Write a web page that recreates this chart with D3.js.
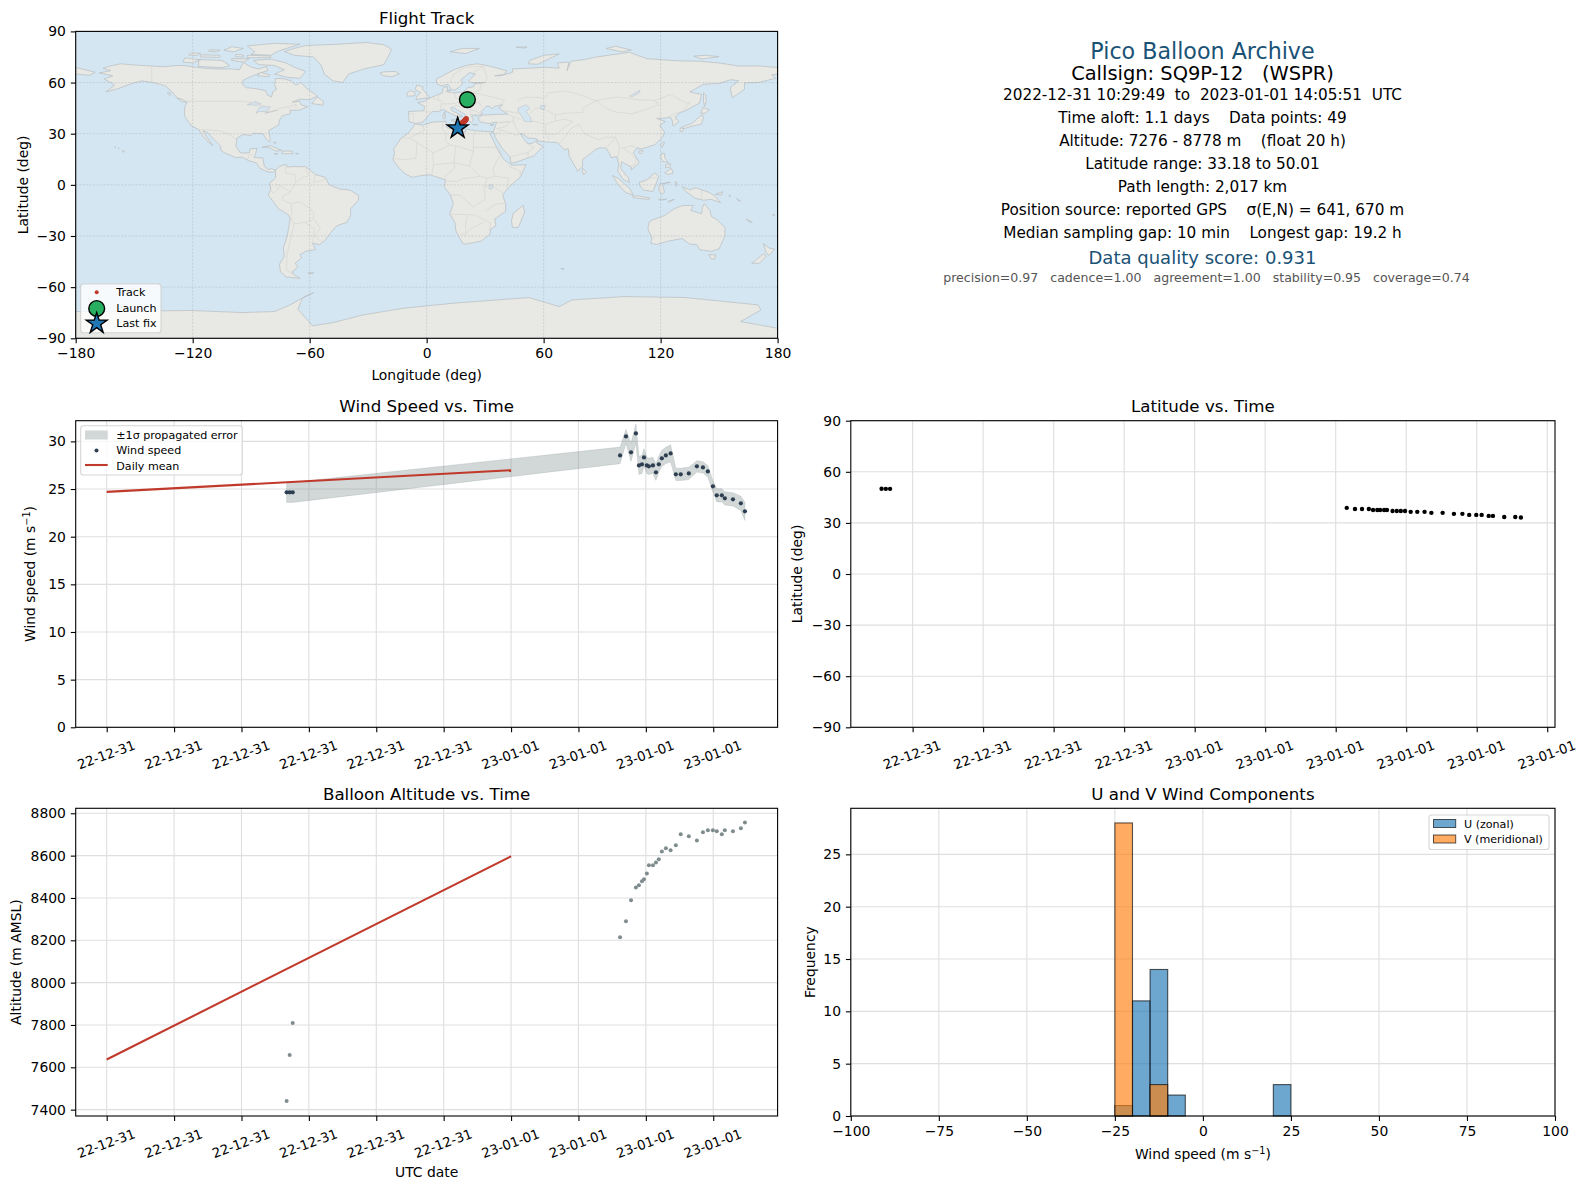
<!DOCTYPE html>
<html>
<head>
<meta charset="utf-8">
<script src="https://cdn.jsdelivr.net/npm/d3@7"></script>
<style>
	html, body { margin: 0; padding: 0; background: #fff; }
	svg { display: block; }
	text { font-family: "DejaVu Sans", sans-serif; fill: #000; white-space: pre; }
	.tick line { stroke: #000; stroke-width: 1.1px; }
	.tick text { font-size: 13.9px; }
	.legend text { font-size: 11.1px; }
</style>
</head>
<body>
<div id="chart"></div>
<script>
'use strict';

// hours after 2022-12-31 00:00 UTC, one per fix
var fixHours = [10.68, 10.86, 11.04, 30.47, 30.82, 31.12, 31.41, 31.59, 31.77, 31.89, 32.06, 32.18, 32.42, 32.60, 32.77, 32.95, 33.19, 33.47, 33.78, 34.07, 34.55, 35.03, 35.39, 35.68, 35.98, 36.21, 36.51, 36.69, 37.17, 37.64, 37.88];
var windSpeed = [24.65, 24.65, 24.65, 28.53, 30.52, 28.85, 30.84, 27.48, 27.59, 28.32, 27.48, 27.38, 27.48, 26.75, 27.59, 28.22, 28.53, 28.74, 26.54, 26.54, 26.64, 27.38, 27.27, 26.85, 25.28, 24.34, 24.34, 24.02, 23.92, 23.50, 22.66];
var windSigma = [1.05, 1.05, 1.05, 0.87, 0.75, 0.95, 1.00, 0.95, 0.95, 0.90, 0.85, 0.85, 0.85, 0.85, 0.85, 0.85, 0.85, 0.90, 0.65, 0.65, 0.65, 0.60, 0.60, 0.60, 0.60, 0.70, 0.70, 0.70, 0.70, 0.75, 0.95];
var altitude = [7441, 7658, 7809, 8214, 8290, 8389, 8450, 8460, 8479, 8488, 8516, 8554, 8554, 8568, 8583, 8620, 8635, 8625, 8649, 8701, 8691, 8672, 8710, 8720, 8720, 8715, 8701, 8720, 8715, 8729, 8757];
var latitude = [50.01, 50.00, 49.98, 38.8, 38.2, 38.2, 38.2, 37.6, 37.6, 37.6, 37.6, 37.6, 37.0, 37.0, 37.0, 37.0, 36.5, 36.5, 36.5, 35.9, 35.9, 35.3, 35.3, 34.7, 34.7, 34.7, 34.1, 34.1, 33.5, 33.5, 33.18];
var longitude = [20.9, 20.9, 20.9, 20.3, 20.1, 20.0, 19.9, 19.7, 19.6, 19.5, 19.4, 19.3, 19.1, 19.0, 18.9, 18.8, 18.6, 18.5, 18.3, 18.1, 17.9, 17.7, 17.5, 17.3, 17.2, 17.0, 16.8, 16.6, 16.4, 16.1, 15.9];

var meanHours = [0, 24];
var meanWind = [24.7, 26.98];
var meanAltitude = [7637, 8597];

var launchFix = [20.9, 50.01];
var lastFix = [15.9, 33.18];

var binStarts = [-25, -20, -15, -10, 20];
var uCounts = [1, 11, 14, 2, 3];
var vBinStarts = [-25, -15];
var vCounts = [28, 3];
var binWidth = 5;

var lonTicks = [-180, -120, -60, 0, 60, 120, 180];
var latTicks = [-90, -60, -30, 0, 30, 60, 90];
var windTicks = [0, 5, 10, 15, 20, 25, 30];
var altTicks = [7400, 7600, 7800, 8000, 8200, 8400, 8600, 8800];
var histXTicks = [-100, -75, -50, -25, 0, 25, 50, 75, 100];
var histYTicks = [0, 5, 10, 15, 20, 25];

var infoLines = [
	'2022-12-31 10:29:49  to  2023-01-01 14:05:51  UTC',
	'Time aloft: 1.1 days    Data points: 49',
	'Altitude: 7276 - 8778 m    (float 20 h)',
	'Latitude range: 33.18 to 50.01',
	'Path length: 2,017 km',
	'Position source: reported GPS    \u03c3(E,N) = 641, 670 m',
	'Median sampling gap: 10 min    Longest gap: 19.2 h'
];

// rough coastlines, lon/lat
var landPolys = [
	// north america
	[[-168,65.7],[-164,66.5],[-162,67],[-166,68.4],[-163,69.5],[-157,71],[-151,70.4],[-141,69.7],[-135,69.3],[-128,70],[-124,69.9],[-115,68.5],[-108,68],[-100,68],[-96,67.5],[-94,71.8],[-90,69],[-86,68],[-82,69.5],[-81.5,67],[-87,65],[-94,61.5],[-94.5,59],[-92.5,57],[-88,56.5],[-82.5,55.2],[-82,53],[-79.5,51.5],[-79,54.5],[-77,56],[-78,58.7],[-77.5,62.4],[-73.5,62.3],[-69.5,61],[-67,58.4],[-64.5,60.2],[-61.5,56.5],[-57,53],[-56,52],[-60,50],[-65,50.2],[-69,48.5],[-65,49],[-64.5,47],[-61,45.8],[-65.5,43.7],[-70,43.8],[-70,41.7],[-74,40.5],[-75.5,38],[-76,35],[-78,33.8],[-81,31.8],[-80.2,27],[-80.5,25.2],[-81.8,26],[-82.8,28],[-84,30],[-89,30.2],[-90,29],[-94,29.5],[-97.3,27.5],[-97.8,22.5],[-95.5,18.7],[-91,18.7],[-90.5,21],[-87,21.5],[-87.8,18],[-88.5,16],[-84,15.8],[-83.3,11],[-81.5,9],[-79.5,9.5],[-77.5,8.6],[-78.5,7.5],[-81,7.5],[-83,8.3],[-85.8,10],[-87.5,13],[-91,14],[-94.5,16.2],[-98,16],[-104,19],[-105.7,20.5],[-105.5,22.5],[-109,26.5],[-112.8,31],[-114.8,31.7],[-112.5,27.5],[-109.5,23],[-112,25],[-115,29],[-117,32.5],[-120.5,34.5],[-122.5,37.5],[-124.2,40.5],[-124,46],[-122.8,48.5],[-128,51],[-130.5,54.5],[-134,58],[-139.5,59.8],[-146,61],[-151,59.5],[-153.5,58.5],[-158,56.5],[-164.5,54.5],[-160,58.5],[-162,60],[-165.5,62],[-161,64]],
	// greenland
	[[-73,78.2],[-68,80],[-62,81.7],[-45,82.5],[-31,83.5],[-22,82.2],[-18,79.5],[-20,74.5],[-22,70.5],[-32,68],[-40,65],[-43,60],[-48,61],[-52.5,65],[-54,70],[-58,75],[-68,76]],
	// canadian arctic
	[[-80,73.7],[-72,71.5],[-68,69],[-62,66.5],[-65,62.5],[-71,63],[-78,65],[-73,67.5],[-78,70],[-86,70.5],[-89,73]],
	[[-117,69.5],[-105,68.7],[-101,70],[-105,73],[-117,73.5]],
	[[-125,72],[-120,71.5],[-116,73.3],[-124,74.5]],
	[[-90,76.5],[-80,76],[-76,78.5],[-65,82.5],[-78,83],[-92,81.5],[-88,78]],
	[[-92,76],[-80,75.6],[-80,74.6],[-92,74.6]],
	[[-116,75],[-106,74.8],[-106,76],[-116,76.3]],
	[[-100,73],[-94,72],[-91,74],[-100,74]],
	[[-87,64],[-81,63.5],[-80.5,64.5],[-85,66]],
	[[-122,76.2],[-118,75.8],[-116,77.3],[-121,77.3]],
	[[-104,79],[-99,78],[-94,80],[-100,81]],
	[[-112,78.5],[-108,78],[-106,79],[-111,79.2]],
	[[-98,75.2],[-94,75],[-94,76.2],[-98,76.5]],
	[[-59,47.7],[-53,46.7],[-53,49],[-56,51.5]],
	[[-133,54],[-131.5,54],[-131.5,52.3]],
	[[-128,50.8],[-125,50],[-123.5,48.5],[-125.5,48.8]],
	// caribbean and hawaii
	[[-84.5,22],[-80,23],[-74.5,20.2],[-77.5,19.8],[-81,22]],
	[[-74,19.8],[-69,19.8],[-68.5,18.3],[-74,18.2]],
	[[-78.3,18.4],[-76.3,18.2],[-77,17.8]],
	[[-67.2,18.5],[-65.7,18.4],[-66.5,17.9]],
	[[-78.5,25.2],[-77.3,24.8],[-77.8,24]],
	[[-156,20.2],[-155,19.8],[-155.7,19]],
	[[-158.2,21.6],[-157.7,21.4],[-158,21.2]],
	[[-160,22.2],[-159.3,22.1],[-159.6,21.8]],
	// south america
	[[-77.5,8.6],[-75.5,10.8],[-72,12],[-71.5,10.5],[-68,10.7],[-62,10.7],[-57,6],[-52,4.5],[-50,0],[-44.5,-2.5],[-39.5,-3],[-35,-6],[-35,-9],[-39,-14],[-39,-18],[-41,-22],[-46,-24],[-48.5,-27],[-52,-32.5],[-55,-35],[-58.5,-34.2],[-57,-38],[-62,-39],[-65,-41],[-64,-42.8],[-67.5,-46],[-66,-48],[-69,-51],[-68.3,-52.5],[-65,-54.8],[-72,-54],[-75,-51],[-75.5,-46.5],[-73,-42],[-73.5,-37],[-71.5,-30],[-70,-20],[-71,-17.5],[-76,-14],[-81.2,-6],[-80,-2.5],[-80.5,1],[-77.5,4],[-77.5,7]],
	[[-61,-51.7],[-58,-51.4],[-58.5,-52.2]],
	// africa
	[[-6,35.8],[-2,35],[3,36.8],[10,37.3],[10,34.5],[10.5,33.5],[15,32.3],[20,31],[20,32.8],[25,31.7],[32,31.2],[34.2,31.2],[32.5,29.9],[35,24],[37.5,18.5],[39.5,15],[43,12],[43.5,11.5],[51,11.8],[48,4.5],[42,-1.5],[39,-6],[40.5,-11],[40.5,-15.5],[35,-20],[35.5,-24],[32.8,-26],[32.5,-29],[28,-33],[20,-34.8],[18.3,-34],[15,-27],[14.5,-22],[11.8,-17],[13.7,-11],[12.2,-6],[9,-1],[9.7,3],[6,4.3],[1.5,6],[-4,5.2],[-7.5,4.4],[-11.5,6.8],[-15,11],[-17.3,14.7],[-16.5,19],[-17,21],[-13,27.5],[-9.8,30],[-6.8,34]],
	[[49.5,-12],[50.3,-16],[47,-25],[44,-25],[43.5,-21],[44.5,-16.5]],
	// eurasia
	[[-9,37],[-9.3,43],[-1.5,43.5],[-1,46],[-4.7,48.3],[-1.5,48.8],[1.5,50.8],[4,52],[8,54],[8.5,57],[10.7,57.7],[10.5,54.5],[14,54],[19,54.5],[21,57],[24,57.5],[24.5,59.3],[30,60],[23,60],[21.5,61],[25,65],[22,65.8],[17.5,61.5],[18.8,60],[16.5,57],[14,55.4],[12.7,56],[11,59],[7.5,58],[5,59.5],[5,62],[14,67.5],[20,70],[26,71],[31,70],[41,67],[40,64.8],[35,64],[38,64],[44,66],[44,68],[54,68.5],[60,69],[68,68.5],[67,71.5],[73,72],[72,67],[74,72.5],[81,73.5],[87,75],[104,77.7],[113,74],[128,72.8],[140,72.5],[150,71.5],[160,69.7],[170,69.8],[180,68.8],[180,65],[177,64.5],[179,62.5],[170,60],[163,59.8],[163,56],[156.7,51],[155.7,57],[160,61],[156,61.7],[150,59.5],[142,59],[135,54.5],[141,53],[140,48],[132,43],[130,42.5],[127.5,39.8],[129.4,37],[126.3,34.5],[126,37.5],[125,39.7],[121.5,39],[118,39],[122.5,37],[119.5,35],[122,31],[121,28],[117,23.5],[110,21],[108,21.7],[106,19],[109,13],[105,8.8],[105,10.5],[100,13.5],[99.5,9.5],[103.5,4],[104,1.3],[101,3],[98,8],[98.5,12],[97.5,16.5],[94.5,16],[94,18],[92,21.5],[89,21.8],[87,21],[82,16.5],[80,15],[80,11],[77.5,8],[76,11],[73,17],[72.7,21],[70.5,20.8],[69,22.5],[67,24.8],[61.5,25.2],[57,25.7],[56.5,27],[52,27.5],[49,30],[48,30],[50,26.5],[51.5,25],[51.6,24.2],[54,24.2],[56.3,26],[56.7,24.4],[59.8,22.5],[55,17],[52,15.8],[45,13],[43.3,12.7],[42.7,16.5],[39,21],[35,28],[34.9,29.5],[34.2,31.2],[35.5,35.5],[36,36.8],[32,36],[30,36.3],[27.3,37],[26.3,39.5],[29,41],[31,41],[36,41.3],[41.5,41.5],[37,45],[39,47],[35,46],[33.5,44.5],[32.5,46],[30.5,46],[28,43],[28.5,41.5],[26,40.7],[23,40.5],[24,38],[22.8,36.5],[21,38],[19.5,41.5],[15.5,44],[13.5,45.7],[12.3,45],[13,43.5],[16,41.8],[18.4,40],[17,40.5],[16,38],[15.7,40],[12.3,41.8],[10.3,43],[8.8,44.4],[6,43],[3,43],[0,39.5],[-2,36.7],[-5.5,36]],
	// chukotka across the date line
	[[-180,68.8],[-175,67.5],[-170,66],[-173,64.3],[-180,65]],
	// european and arctic islands
	[[-5.5,50],[1.5,51.2],[0,53.5],[-2,56],[-2,57.5],[-5,58.6],[-6,56],[-3,54],[-5,52]],
	[[-10,52],[-6,52.2],[-6,54.5],[-8.5,55.2],[-10,54]],
	[[-24,65.5],[-22,64],[-18,63.4],[-14,65],[-16,66.5],[-22,66.3]],
	[[12,78],[18,80],[27,80],[20,77]],
	[[52,71],[57,70.7],[68,76.8],[60,76],[53,73]],
	[[92,80],[97,81.3],[105,79],[100,78]],
	[[137,75.5],[143,76],[150,75.2],[141,73.8]],
	[[46,80.8],[51.5,80.8],[50,80.2]],
	[[12.5,38],[15.5,38.2],[15,36.7]],
	[[8.3,41],[9.7,41],[9.5,39],[8.5,39]],
	[[8.7,42.5],[9.5,43],[9.3,41.5]],
	[[23.5,35.5],[26.2,35.3],[24,35]],
	[[32.5,35],[34.5,35.6],[33.5,34.7]],
	[[12,55.8],[12.5,55.3],[10.5,55.2]],
	// asia and pacific islands
	[[131,34],[136,36],[140,40],[141.5,41],[142,39],[140.8,35.5],[137,34.6],[132,33]],
	[[130,33.5],[131.8,33],[131,31],[130,31.5]],
	[[140.5,42],[141.7,45.4],[145,44],[143,42]],
	[[142,54],[143,53],[143.5,49],[142.5,46],[142,49]],
	[[121,25],[122,25],[120.8,22],[120,23.5]],
	[[109,20],[111,20],[110,18.3],[108.7,18.7]],
	[[80,9.7],[82,7.5],[80.5,6],[79.8,8]],
	[[120.5,18.5],[122.2,18.4],[122,16],[124,13],[121,13.8],[120,16]],
	[[122,7],[125.5,9.8],[126.5,7],[124,6]],
	[[122.5,11.5],[125,12.5],[125,10.5],[122.5,10]],
	[[109,1.5],[113,3],[117,7],[119,5],[117.8,1],[116,-4],[111,-3],[109.2,0]],
	[[95.3,5.5],[98,4],[104,-2],[106,-6],[102,-4.5],[98,0.5]],
	[[105.5,-6.5],[108.5,-6.5],[114.5,-7.7],[114,-8.6],[106,-7.5]],
	[[119.5,0.5],[125,1.5],[121,0.5],[122,-4.5],[120.5,-5.5],[119,-3]],
	[[127.5,2],[128.5,1],[128,-0.8]],
	[[131,-1],[135,-3],[138,-1.7],[145,-4.5],[147.8,-6.5],[150.8,-10.5],[146,-8.5],[142,-9],[138,-8],[133,-4]],
	[[119,-8.5],[123,-8.4],[120,-9]],
	[[124,-9.5],[127,-8.5],[124,-10.2]],
	[[148,-5.5],[152,-4],[151,-6]],
	[[155,-6],[156,-6.5],[155.5,-7]],
	[[159,-8],[161,-9.5],[160,-9.5]],
	[[164,-20],[167,-22],[165,-21.5]],
	[[177.3,-17.5],[178.6,-17.5],[178,-18.2]],
	[[114,-22],[113.5,-26],[115.5,-31],[115,-34.3],[118,-35],[124,-33],[131,-31.5],[135,-34.8],[138.5,-35],[140,-38],[146,-39],[150,-37.5],[153,-30],[153,-25],[149,-20.5],[146,-18.5],[145.3,-15],[142.5,-11],[141.5,-13],[141,-17],[135.5,-15],[136.8,-12],[131,-12.2],[127,-14],[122,-18],[116,-20.5]],
	[[144.7,-41],[148.2,-41],[147.8,-43.5],[146,-43.5]],
	[[172.8,-34.5],[175.5,-37],[178.5,-37.7],[175.5,-41.5],[174,-39.5]],
	[[172.7,-40.5],[174.3,-41.7],[170.7,-46],[166.7,-46]],
	[[68.8,-49],[70.5,-49.2],[69.5,-49.8]],
	// antarctica
	[[-180,-74.3],[-120.6,-73.7],[-94.7,-74.9],[-78,-74.3],[-70,-70.4],[-62.4,-65.5],[-58,-63.2],[-63.7,-66.5],[-66,-73],[-58.5,-82.7],[-48,-80.8],[-32.7,-76.3],[-12,-72.4],[13.8,-69.4],[52.6,-66.1],[68,-71.4],[74.5,-67.5],[101.7,-65.5],[132.7,-66.1],[170,-70.4],[171.4,-73.4],[161,-80.2],[180,-84.1],[180,-90],[-180,-90]]
];

// inland water drawn over the land
var waterPolys = [
	[[47,45],[51,47],[53,45],[51,43],[53,40],[54,37],[50,37.3],[49,40],[47,43]],
	[[-92,47],[-88,48.8],[-85,47.5],[-87,46.6]],
	[[-87.5,42],[-85.5,45.8],[-80,45.8],[-82,43],[-86,43]],
	[[-83,42],[-79,43],[-76.5,43.7],[-79.5,43.3]],
	[[104,52],[109.5,55.5],[109,54],[105,51.5]],
	[[32,0],[34,0],[33.5,-2.5],[32,-2.5]],
	[[58.5,46.5],[61,46.5],[60,44],[58.5,44.5]]
];

// country borders, only the ones that show at this scale
var borderLines = [
	[[-141,69.7],[-141,60.3],[-134,58]],
	[[-123,49],[-95,49],[-88,48.2],[-83,46],[-82,43],[-79,43],[-75,45],[-70,46],[-67,47.2],[-67,45]],
	[[-117,32.5],[-106.5,31.8],[-101,29.5],[-97.3,26]],
	[[-92,14.5],[-91,17.5],[-89,17.8]],
	[[-72,12],[-72.5,7],[-67.5,6],[-67,1.5],[-70,-4.2],[-74,-7],[-73,-9.5],[-69.5,-11],[-69,-16],[-69.5,-18]],
	[[-77.5,0.5],[-75,-0.5],[-70,-4.2]],
	[[-80.3,-3.4],[-78.5,-4.8],[-75.2,-1]],
	[[-62,10],[-60.5,5.2],[-64,4],[-67,1.5]],
	[[-57,6],[-58,1.5],[-54,2.2],[-51.7,4.2]],
	[[-69,-11],[-65.3,-10],[-60,-13.5],[-58,-16.5],[-58,-20],[-54.5,-25.5],[-57.5,-30],[-53.5,-33.8]],
	[[-70,-18.3],[-68,-22.8],[-62.5,-22],[-58,-20]],
	[[-68,-22.8],[-70,-33],[-71.5,-40],[-72,-50],[-68.5,-52.3]],
	[[-62.5,-22],[-57.7,-25.5],[-58.5,-34]],
	[[-2,35],[-1.2,32],[-8.7,27.5],[-13,27.5]],
	[[-8.7,27.5],[-5,25],[3,19],[4.3,19.2],[12,23.5],[15,23],[24,19.5],[24,29],[25,31.7]],
	[[8.5,37],[8,33],[10,30],[9.5,26],[12,23.5]],
	[[24,22],[36.8,22]],
	[[-17,15.5],[-12,14.8],[-5.5,15.5],[-5,25]],
	[[3,19],[3.5,11.7],[2.7,6.3]],
	[[3.5,11.7],[14,13],[14.5,10],[9,4.5]],
	[[15,23],[14,13],[22,11],[24,8.7],[27.5,5],[31,3.7],[35,5],[42,4],[41,-1.6]],
	[[24,19.5],[22.5,14],[22,11]],
	[[36.8,22],[38.5,18],[36,14.3],[34,9],[35,5]],
	[[42,11],[48,8],[48,4.5]],
	[[9,2.2],[16,2],[18.5,3.5],[27.5,5]],
	[[12.2,-6],[17,-6],[22,-11],[24,-13],[30,-8.5],[29.5,-1.2],[31,3.7]],
	[[29.5,-1.2],[34,-1],[37.5,-3.5],[39.2,-4.7]],
	[[11.8,-17.3],[24,-17.5],[25,-17.8],[33,-22.5],[32,-26.7]],
	[[20,-29],[20,-22],[21,-18]],
	[[17,-28.7],[20,-29],[23,-25.3],[29,-22.2]],
	[[40.5,-10.7],[34.8,-11.5],[30,-15.3]],
	[[-9,42],[-6.5,41.5],[-7,37.2]],
	[[-1.7,43.3],[3,42.5]],
	[[3,51],[6,49.5],[8,49],[7.5,47.5],[13,47.5],[17,48.5],[23,48],[27,48.2],[28.3,45.5]],
	[[7,53.3],[6,51],[6,49.5]],
	[[14.2,54],[15,51],[19,49.5],[24,50.5],[23.5,54],[21,55.3]],
	[[9,54.8],[14.2,54]],
	[[7.5,47.5],[7,44]],
	[[14,46.5],[18,46],[22.5,44.2],[22.5,41.3],[26,41.3]],
	[[28,41.9],[22.5,44.2]],
	[[12,60],[14,65],[20,69],[29,69.5]],
	[[24,66],[29,69.5]],
	[[30,60],[31,63],[29,69.5]],
	[[28,56],[23.5,54],[32,52],[40,49.7],[38,47]],
	[[28,56],[27.5,59.5]],
	[[40,43.5],[47,42],[48.5,41.8]],
	[[41.5,41.5],[44.5,39.7],[48,38.5]],
	[[36.5,36.5],[44.5,37.2],[44.5,39.7]],
	[[36,33],[39,32],[46,29],[48,29.9]],
	[[44.5,37.2],[46,33],[48,30]],
	[[35,29.5],[39,32]],
	[[36.5,36.5],[42.3,37.1],[41,34.3],[36,33]],
	[[43,16.5],[52,19],[55,22],[51.6,24.2]],
	[[52,19],[52,16]],
	[[47,50],[51,51.5],[61,51],[62,54],[71,55],[77,53.5],[87,49.3]],
	[[53,42],[56,45],[59,45],[62,43.5],[66,41],[66,37.5],[61,35.5],[54,37.5]],
	[[66,41],[71,42],[80,42.5],[80,45],[87,49.3]],
	[[61,35.5],[61,30],[63,26.5]],
	[[61,30],[66,29.5],[71,34],[75,37],[71,38.5],[66,37.5]],
	[[68,24],[71,28],[74,33],[78,35.5],[81,30],[88,26.5],[92,28],[97,28],[94,24],[92,21.5]],
	[[87,49.3],[92,45],[97,42.7],[105,41.7],[111,43.5],[119,47],[117,49.5],[108,50],[98,51.5],[92,50.5],[87,49.3]],
	[[119,47],[117,49.5],[125,53],[133,48],[135,48.3],[131,43]],
	[[124,40],[128,42],[130,42.5]],
	[[126.5,38],[128.5,38.5]],
	[[97,28],[99,22],[101,21.5],[105,23],[108,21.7]],
	[[99,22],[98,16],[99,11]],
	[[101,21.5],[105,18],[107.5,15],[106,11],[103,11]],
	[[101,6],[103,5.5]],
	[[110,1],[115,4],[118,4.3]],
	[[141,-2.6],[141,-9]]
];

var W = 1588, H = 1189;

// plot boxes in page pixels
var mapBox = { x0: 75.7, x1: 777.6, y0: 31.4, y1: 338.3 };
var windBox = { x0: 75.7, x1: 777.6, y0: 420.7, y1: 727.3 };
var latBox = { x0: 850.8, x1: 1555, y0: 420.7, y1: 727.3 };
var altBox = { x0: 75.7, x1: 777.6, y0: 808.3, y1: 1116 };
var histBox = { x0: 850.8, x1: 1555, y0: 808.3, y1: 1116 };

var RED = '#c0392b', NAVY = '#2c3e50', SLATE = '#7f8c8d', INK = '#1a5276';
var GRID = '#dfdfdf';

var svg = d3.select('#chart').append('svg').attr('width', W).attr('height', H);
var defs = svg.append('defs');

function hourToDate(h) {
	return new Date(Date.UTC(2022, 11, 31) + h * 3600000);
}

// "m s-1" style label with a real raised exponent
function windLabel(sel) {
	sel.text('Wind speed (m s');
	sel.append('tspan').attr('dy', -5).style('font-size', '9.7px').text('\u22121');
	sel.append('tspan').attr('dy', 5).text(')');
}

function frame(box, title, titleGap, xLabel, xLabelY, yLabel, yLabelX) {
	var g = svg.append('g');
	g.append('rect')
		.attr('class', 'frame')
		.attr('x', box.x0).attr('y', box.y0)
		.attr('width', box.x1 - box.x0).attr('height', box.y1 - box.y0)
		.attr('fill', 'none').attr('stroke', '#000').attr('stroke-width', 1.1);
	g.append('text')
		.attr('x', (box.x0 + box.x1) / 2).attr('y', box.y0 - titleGap)
		.attr('text-anchor', 'middle').style('font-size', '16.67px').text(title);
	if (xLabel) {
		var xl = g.append('text')
			.attr('x', (box.x0 + box.x1) / 2).attr('y', xLabelY)
			.attr('text-anchor', 'middle').style('font-size', '13.9px');
		if (typeof xLabel === 'function') { xl.call(xLabel); } else { xl.text(xLabel); }
	}
	var yl = g.append('text')
		.attr('transform', 'translate(' + yLabelX + ',' + (box.y0 + box.y1) / 2 + ') rotate(-90)')
		.attr('text-anchor', 'middle').attr('y', 5).style('font-size', '13.9px');
	if (typeof yLabel === 'function') { yl.call(yLabel); } else { yl.text(yLabel); }
	return g;
}

function drawAxes(box, x, y, xTickVals, yTickVals, xFormat, rotate, gridDash) {
	var grid = svg.append('g').attr('class', 'grid');
	grid.selectAll('line.gx').data(xTickVals).enter().append('line')
		.attr('class', 'gx')
		.attr('x1', x).attr('x2', x).attr('y1', box.y0).attr('y2', box.y1);
	grid.selectAll('line.gy').data(yTickVals).enter().append('line')
		.attr('class', 'gy')
		.attr('y1', y).attr('y2', y).attr('x1', box.x0).attr('x2', box.x1);
	grid.selectAll('line')
		.attr('stroke', gridDash ? '#9aa4a8' : GRID)
		.attr('stroke-opacity', gridDash ? 0.55 : 1)
		.attr('stroke-width', gridDash ? 0.6 : 1.1)
		.attr('stroke-dasharray', gridDash ? '2,1.5' : null);

	var xAxis = d3.axisBottom(x).tickValues(xTickVals).tickSize(4.9).tickPadding(4.9);
	if (xFormat) { xAxis.tickFormat(xFormat); }
	var xg = svg.append('g').attr('transform', 'translate(0,' + box.y1 + ')').call(xAxis);
	xg.select('.domain').remove();
	if (rotate) {
		xg.selectAll('text')
			.attr('y', 0).attr('dy', '0.35em')
			.style('font-size', '13.3px')
			.attr('transform', 'translate(-1,27.5) rotate(-20)');
	}
	var yg = svg.append('g').attr('transform', 'translate(' + box.x0 + ',0)')
		.call(d3.axisLeft(y).tickValues(yTickVals).tickSize(4.9).tickPadding(4.9).tickFormat(d3.format('d')));
	yg.select('.domain').remove();
}

function legend(x, y, w, h) {
	var g = svg.append('g').attr('class', 'legend');
	g.append('rect')
		.attr('x', x).attr('y', y).attr('width', w).attr('height', h).attr('rx', 2.8)
		.attr('fill', '#fff').attr('fill-opacity', 0.8)
		.attr('stroke', '#ccc').attr('stroke-opacity', 0.8).attr('stroke-width', 1.1);
	return g;
}

function legendLabel(g, x, y, label) {
	g.append('text').attr('x', x).attr('y', y).attr('dy', '0.35em').text(label);
}

/* ---- flight track map ---- */
var mapX = d3.scaleLinear().domain([-180, 180]).range([mapBox.x0, mapBox.x1]);
var mapY = d3.scaleLinear().domain([-90, 90]).range([mapBox.y1, mapBox.y0]);
var mapLine = d3.line().x(function(d){ return mapX(d[0]); }).y(function(d){ return mapY(d[1]); });

defs.append('clipPath').attr('id', 'mapClip').append('rect')
	.attr('x', mapBox.x0).attr('y', mapBox.y0)
	.attr('width', mapBox.x1 - mapBox.x0).attr('height', mapBox.y1 - mapBox.y0);

var mapG = svg.append('g').attr('clip-path', 'url(#mapClip)');
mapG.append('rect')
	.attr('x', mapBox.x0).attr('y', mapBox.y0)
	.attr('width', mapBox.x1 - mapBox.x0).attr('height', mapBox.y1 - mapBox.y0)
	.attr('fill', '#d4e6f2');
mapG.selectAll('path.land').data(landPolys).enter().append('path')
	.attr('class', 'land')
	.attr('d', function(d){ return mapLine(d) + 'Z'; })
	.attr('fill', '#e8e8e4').attr('stroke', '#b7bdc0').attr('stroke-width', 0.7).attr('stroke-linejoin', 'round');
mapG.selectAll('path.water').data(waterPolys).enter().append('path')
	.attr('class', 'water')
	.attr('d', function(d){ return mapLine(d) + 'Z'; })
	.attr('fill', '#d4e6f2').attr('stroke', '#b7bdc0').attr('stroke-width', 0.5);
mapG.selectAll('path.border').data(borderLines).enter().append('path')
	.attr('class', 'border')
	.attr('d', mapLine)
	.attr('fill', 'none').attr('stroke', '#d6d6d2').attr('stroke-width', 0.7);

drawAxes(mapBox, mapX, mapY, lonTicks, latTicks, d3.format('d'), false, true);

var trackPoints = d3.zip(longitude, latitude);
svg.append('g').selectAll('circle').data(trackPoints).enter().append('circle')
	.attr('cx', function(d){ return mapX(d[0]); })
	.attr('cy', function(d){ return mapY(d[1]); })
	.attr('r', 2.6).attr('fill', RED);

svg.append('circle')
	.attr('cx', mapX(launchFix[0])).attr('cy', mapY(launchFix[1]))
	.attr('r', 7.9).attr('fill', '#27ae60').attr('stroke', '#000').attr('stroke-width', 1.4);
var star = d3.symbol().type(d3.symbolStar).size(135);
svg.append('path')
	.attr('transform', 'translate(' + mapX(lastFix[0]) + ',' + mapY(lastFix[1]) + ')')
	.attr('d', star()).attr('fill', '#1f77b4').attr('stroke', '#000').attr('stroke-width', 1.4);

frame(mapBox, 'Flight Track', 7, 'Longitude (deg)', 380, 'Latitude (deg)', 22.5);

var mapLegend = legend(80.7, 284, 80.3, 48.7);
mapLegend.append('circle').attr('cx', 96.7).attr('cy', 292.3).attr('r', 2).attr('fill', RED);
mapLegend.append('circle').attr('cx', 96.7).attr('cy', 308.5).attr('r', 7.9)
	.attr('fill', '#27ae60').attr('stroke', '#000').attr('stroke-width', 1.4);
mapLegend.append('path').attr('transform', 'translate(96.7,323.5)')
	.attr('d', star()).attr('fill', '#1f77b4').attr('stroke', '#000').attr('stroke-width', 1.4);
legendLabel(mapLegend, 116.3, 292.3, 'Track');
legendLabel(mapLegend, 116.3, 308, 'Launch');
legendLabel(mapLegend, 116.3, 323.3, 'Last fix');

/* ---- info panel ---- */
var infoX = 1202.5;
function infoText(y, size, color, label) {
	svg.append('text')
		.attr('x', infoX).attr('y', y).attr('text-anchor', 'middle').attr('dy', '0.35em')
		.style('font-size', size + 'px').style('fill', color).text(label);
}
infoText(51, 22.2, INK, 'Pico Balloon Archive');
infoText(73, 19.44, '#000', 'Callsign: SQ9P-12   (WSPR)');
var infoYs = [95, 118, 141, 163.5, 186.5, 209.5, 232.5];
infoLines.forEach(function(s, i){ infoText(infoYs[i], 15.28, '#000', s); });
infoText(257.5, 18.05, INK, 'Data quality score: 0.931');
svg.append('text')
	.attr('x', 1206.5).attr('y', 277.5).attr('text-anchor', 'middle').attr('dy', '0.35em')
	.style('font-size', '12.55px').style('fill', '#555')
	.text('precision=0.97   cadence=1.00   agreement=1.00   stability=0.95   coverage=0.74');

/* ---- shared time scales ---- */
var dayFormat = d3.utcFormat('%y-%m-%d');
var leftTime = d3.scaleUtc().domain([hourToDate(-1.84), hourToDate(39.82)]).range([windBox.x0, windBox.x1]);
var leftTicks = leftTime.ticks(d3.utcHour.every(4));
var fixDates = fixHours.map(hourToDate);
var meanDates = meanHours.map(hourToDate);

/* ---- wind speed ---- */
var windY = d3.scaleLinear().domain([0, 32.17]).range([windBox.y1, windBox.y0]);
drawAxes(windBox, leftTime, windY, leftTicks, windTicks, dayFormat, true, false);

var band = d3.area()
	.x(function(d){ return leftTime(d.t); })
	.y0(function(d){ return windY(d.v - d.s); })
	.y1(function(d){ return windY(d.v + d.s); });
var windRows = fixDates.map(function(t, i){ return { t: t, v: windSpeed[i], s: windSigma[i] }; });
svg.append('path').datum(windRows).attr('d', band)
	.attr('fill', SLATE).attr('fill-opacity', 0.35)
	.attr('stroke', SLATE).attr('stroke-opacity', 0.2).attr('stroke-width', 1);
svg.append('g').selectAll('circle').data(windRows).enter().append('circle')
	.attr('cx', function(d){ return leftTime(d.t); })
	.attr('cy', function(d){ return windY(d.v); })
	.attr('r', 2.1).attr('fill', NAVY);
svg.append('path').datum(d3.zip(meanDates, meanWind))
	.attr('d', d3.line().x(function(d){ return leftTime(d[0]); }).y(function(d){ return windY(d[1]); }))
	.attr('fill', 'none').attr('stroke', RED).attr('stroke-width', 2.08);

frame(windBox, 'Wind Speed vs. Time', 9, null, 0, windLabel, 29.5);

var windLegend = legend(80.7, 425.7, 161.6, 49.3);
windLegend.append('rect').attr('x', 85).attr('y', 430.5).attr('width', 22.7).attr('height', 9)
	.attr('fill', SLATE).attr('fill-opacity', 0.35);
windLegend.append('circle').attr('cx', 96.5).attr('cy', 450.5).attr('r', 2).attr('fill', NAVY);
windLegend.append('line').attr('x1', 85).attr('x2', 107.7).attr('y1', 465).attr('y2', 465)
	.attr('stroke', RED).attr('stroke-width', 2.08);
legendLabel(windLegend, 116.3, 435.5, '\u00b11\u03c3 propagated error');
legendLabel(windLegend, 116.3, 450.5, 'Wind speed');
legendLabel(windLegend, 116.3, 466, 'Daily mean');

/* ---- latitude ---- */
var latTime = d3.scaleUtc().domain([hourToDate(9.37), hourToDate(39.33)]).range([latBox.x0, latBox.x1]);
var latTickDates = latTime.ticks(d3.utcHour.every(3));
var latY = d3.scaleLinear().domain([-90, 90]).range([latBox.y1, latBox.y0]);
drawAxes(latBox, latTime, latY, latTickDates, latTicks, dayFormat, true, false);
svg.append('g').selectAll('circle').data(d3.zip(fixDates, latitude)).enter().append('circle')
	.attr('cx', function(d){ return latTime(d[0]); })
	.attr('cy', function(d){ return latY(d[1]); })
	.attr('r', 2.2).attr('fill', '#000');
frame(latBox, 'Latitude vs. Time', 9, null, 0, 'Latitude (deg)', 797);

/* ---- altitude ---- */
var altY = d3.scaleLinear().domain([7370, 8823.6]).range([altBox.y1, altBox.y0]);
drawAxes(altBox, leftTime, altY, leftTicks, altTicks, dayFormat, true, false);
svg.append('g').selectAll('circle').data(d3.zip(fixDates, altitude)).enter().append('circle')
	.attr('cx', function(d){ return leftTime(d[0]); })
	.attr('cy', function(d){ return altY(d[1]); })
	.attr('r', 2).attr('fill', SLATE);
svg.append('path').datum(d3.zip(meanDates, meanAltitude))
	.attr('d', d3.line().x(function(d){ return leftTime(d[0]); }).y(function(d){ return altY(d[1]); }))
	.attr('fill', 'none').attr('stroke', RED).attr('stroke-width', 2.08);
frame(altBox, 'Balloon Altitude vs. Time', 8, 'UTC date', 1177, 'Altitude (m AMSL)', 16);

/* ---- u / v histogram ---- */
var histX = d3.scaleLinear().domain([-100, 100]).range([histBox.x0, histBox.x1]);
var histY = d3.scaleLinear().domain([0, 29.4]).range([histBox.y1, histBox.y0]);
drawAxes(histBox, histX, histY, histXTicks, histYTicks, d3.format('d'), false, false);

function bars(starts, counts, color, opacity) {
	svg.append('g').selectAll('rect').data(d3.zip(starts, counts)).enter().append('rect')
		.attr('x', function(d){ return histX(d[0]); })
		.attr('width', function(d){ return histX(d[0] + binWidth) - histX(d[0]); })
		.attr('y', function(d){ return histY(d[1]); })
		.attr('height', function(d){ return histY(0) - histY(d[1]); })
		.attr('fill', color).attr('fill-opacity', opacity)
		.attr('stroke', '#000').attr('stroke-opacity', 0.65).attr('stroke-width', 1.1);
}
bars(binStarts, uCounts, '#1f77b4', 0.65);
bars(vBinStarts, vCounts, '#ff7f0e', 0.65);
frame(histBox, 'U and V Wind Components', 8, windLabel, 1159, 'Frequency', 810);

var histLegend = legend(1429, 815, 120, 34.5);
histLegend.append('rect').attr('x', 1433.5).attr('y', 819.5).attr('width', 22.2).attr('height', 8)
	.attr('fill', '#1f77b4').attr('fill-opacity', 0.65).attr('stroke', '#000').attr('stroke-opacity', 0.65);
histLegend.append('rect').attr('x', 1433.5).attr('y', 835).attr('width', 22.2).attr('height', 8)
	.attr('fill', '#ff7f0e').attr('fill-opacity', 0.65).attr('stroke', '#000').attr('stroke-opacity', 0.65);
legendLabel(histLegend, 1464, 824, 'U (zonal)');
legendLabel(histLegend, 1464, 839.5, 'V (meridional)');
</script>
</body>
</html>
